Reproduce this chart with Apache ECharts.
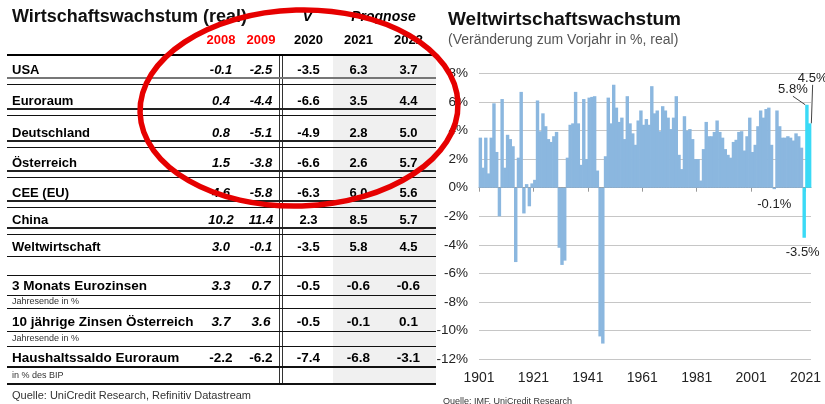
<!DOCTYPE html>
<html><head><meta charset="utf-8">
<script src="https://cdn.jsdelivr.net/npm/echarts@6/dist/echarts.min.js"></script>
<style>html,body{margin:0;padding:0;background:#fff}#c{width:825px;height:404px}</style>
</head><body><div id="c"></div>
<script>
// ---------------- DATA ----------------
const firstYear = 1901;
const growth = [
  3.5, 1.4, 3.5, 1.0, 3.5, 5.9, 2.5, -2.0, 6.2, 1.4,
  3.7, 3.4, 2.9, -5.2, 2.1, 6.7, -1.8, 0.25, -1.3, 0.3,
  0.55, 6.1, 3.95, 5.2, 4.3, 3.4, 3.2, 3.6, 3.9, -4.2,
  -5.4, -5.1, 2.1, 4.4, 4.5, 6.7, 4.5, 1.6, 6.2, 2.0,
  6.3, 6.35, 6.4, 1.2, -10.4, -10.9, 2.2, 6.3, 4.5, 7.2,
  5.6, 4.6, 4.9, 3.4, 6.4, 4.5, 3.8, 3.0, 4.7, 5.4,
  4.4, 4.8, 4.4, 7.1, 5.2, 5.4, 3.95, 5.7, 5.4, 4.9,
  4.1, 4.9, 6.4, 2.3, 1.3, 5.0, 4.0, 4.1, 3.4, 2.0,
  2.0, 0.5, 2.7, 4.6, 3.6, 3.6, 3.9, 4.7, 3.9, 3.5,
  2.7, 2.3, 2.1, 3.2, 3.35, 3.9, 3.95, 2.6, 3.6, 4.9,
  2.5, 3.0, 4.3, 5.4, 4.9, 5.5, 5.6, 3.0, -0.1, 5.4,
  4.3, 3.5, 3.5, 3.6, 3.5, 3.3, 3.8, 3.6, 2.8, -3.5,
  5.8, 4.5
];
const years = growth.map((_, i) => firstYear + i);
const highlightFrom = 2020;
const xTickYears = [1901, 1921, 1941, 1961, 1981, 2001, 2021];
const yTicks = [-12, -10, -8, -6, -4, -2, 0, 2, 4, 6, 8];

// table
const headerYears = ['2008', '2009', '2020', '2021', '2022'];
const rowLabels = ['USA', 'Euroraum', 'Deutschland', 'Österreich', 'CEE (EU)', 'China', 'Weltwirtschaft'];
const v2008 = [-0.1, 0.4, 0.8, 1.5, 4.6, 10.2, 3.0];
const v2009 = [-2.5, -4.4, -5.1, -3.8, -5.8, 11.4, -0.1];
const v2020 = [-3.5, -6.6, -4.9, -6.6, -6.3, 2.3, -3.5];
const v2021 = [6.3, 3.5, 2.8, 2.6, 6.0, 8.5, 5.8];
const v2022 = [3.7, 4.4, 5.0, 5.7, 5.6, 5.7, 4.5];
const extraLabels = ['3 Monats Eurozinsen', '10 jährige Zinsen Österreich', 'Haushaltssaldo Euroraum'];
const extraNotes = ['Jahresende in %', 'Jahresende in %', 'in % des BIP'];
const e2008 = [3.3, 3.7, -2.2];
const e2009 = [0.7, 3.6, -6.2];
const e2020 = [-0.5, -0.5, -7.4];
const e2021 = [-0.6, -0.1, -6.8];
const e2022 = [-0.6, 0.1, -3.1];

// ---------------- LAYOUT / STYLE ----------------
const FONT = '"Liberation Sans", Arial, Helvetica, sans-serif';
const grid = { left: 479, top: 73.3, width: 332, height: 286 };
const BLUE = '#8BB7DF', CYAN = '#3ADAF6';
const annot = {
  2009: { text: '-0.1%', edge: 'bottom', dx: 0, dy: 15, line: false },
  2020: { text: '-3.5%', edge: 'bottom', dx: -1.5, dy: 15, line: false },
  2021: { text: '5.8%', edge: 'top', dx: -14, dy: -15, line: true },
  2022: { text: '4.5%', edge: 'top', dx: 3, dy: -45, line: true }
};
const T = {
  colX: [221, 261, 308.5, 358.5, 408.5],
  rowY: [70, 101, 133, 163, 193, 220, 247],
  extraY: [286, 322, 358.7], noteY: [301.5, 339, 376],
  left: 7, right: 436, labelX: 12, top: 54.5, bottom: 384,
  vline: [279.5, 282.5], shadeX: 333
};

function text(x, y, str, o) {
  o = o || {};
  return {
    type: 'text', z: o.z || 10, silent: true,
    style: {
      text: str, x: x, y: y, fill: o.color || '#000',
      fontFamily: FONT, fontSize: o.size || 13, fontWeight: o.weight || 'normal',
      fontStyle: o.italic ? 'italic' : 'normal',
      align: o.align || 'left', verticalAlign: 'middle',
      textAlign: o.align || 'left', textVerticalAlign: 'middle'
    }
  };
}
function hline(y, w, color) {
  const yy = w % 2 === 1 ? Math.round(y) + 0.5 : Math.round(y);
  return { type: 'line', z: 6, silent: true, shape: { x1: T.left, y1: yy, x2: T.right, y2: yy }, style: { stroke: color || '#111', lineWidth: w } };
}

const g = [];
// shading of forecast columns
g.push({ type: 'rect', z: 1, silent: true, shape: { x: T.shadeX, y: T.top, width: T.right - T.shadeX, height: T.bottom - T.top }, style: { fill: '#F0F0F0' } });
// vertical double line
T.vline.forEach(x => g.push({ type: 'line', z: 6, silent: true, shape: { x1: x, y1: T.top, x2: x, y2: T.bottom }, style: { stroke: '#333', lineWidth: 1 } }));
// horizontal lines
g.push(hline(T.top, 2, '#000'));
T.rowY.forEach((y, i) => {
  if (i < T.rowY.length - 1) { g.push(hline(y + 8, 2, i === 0 ? '#777' : '#222')); g.push(hline(y + 14, 1, '#111')); }
  else g.push(hline(y + 9, 1, '#111'));
});
g.push(hline(T.extraY[0] - 11, 1, '#111'));
T.extraY.forEach((y, k) => {
  const last = k === T.extraY.length - 1;
  g.push(hline(y + (last ? 8 : 9), last ? 2 : 1, '#111'));
  g.push(hline(last ? T.bottom : T.noteY[k] + 6.5, last ? 2 : 1, '#111'));
});
// titles
g.push(text(T.labelX, 17, 'Wirtschaftswachstum (real)', { size: 18, weight: 'bold', color: '#111' }));
g.push(text(307.5, 17, 'V', { size: 15, weight: 'bold', italic: true, align: 'center' }));
g.push(text(383.5, 17, 'Prognose', { size: 14, weight: 'bold', italic: true, align: 'center' }));
headerYears.forEach((h, c) => g.push(text(T.colX[c], 40.5, h, { size: 13, weight: 'bold', align: 'center', color: c < 2 ? '#FF0000' : '#000' })));
// main rows
const mainCols = [v2008, v2009, v2020, v2021, v2022];
rowLabels.forEach((lab, i) => {
  g.push(text(T.labelX, T.rowY[i], lab, { size: 13, weight: 'bold' }));
  mainCols.forEach((col, c) => g.push(text(T.colX[c], T.rowY[i], col[i].toFixed(1), { size: 13, weight: 'bold', italic: c < 2, align: 'center' })));
});
// extra rows
const extraCols = [e2008, e2009, e2020, e2021, e2022];
extraLabels.forEach((lab, k) => {
  g.push(text(T.labelX, T.extraY[k], lab, { size: 13.5, weight: 'bold' }));
  g.push(text(T.labelX, T.noteY[k], extraNotes[k], { size: 9, color: '#333' }));
  extraCols.forEach((col, c) => g.push(text(T.colX[c], T.extraY[k], col[k].toFixed(1), { size: 13.5, weight: 'bold', italic: c < 2 && k < 2, align: 'center' })));
});
g.push(text(T.labelX, 396, 'Quelle: UniCredit Research, Refinitiv Datastream', { size: 11, color: '#333' }));
// chart titles
g.push(text(448, 19.5, 'Weltwirtschaftswachstum', { size: 19, weight: 'bold', color: '#111' }));
g.push(text(448, 40, '(Veränderung zum Vorjahr in %, real)', { size: 14, color: '#555' }));
g.push(text(443, 402, 'Quelle: IMF, UniCredit Research', { size: 9, color: '#333' }));
// red ellipse annotation
g.push({ type: 'ellipse', z: 100, silent: true, x: 299, y: 108, rotation: 0.03, shape: { cx: 0, cy: 0, rx: 159, ry: 98 }, style: { fill: 'none', stroke: '#E60000', lineWidth: 5.5 } });

// ---------------- SERIES DATA ----------------
const span = years.length;
const barData = years.map((yr, i) => {
  const item = { value: [yr - firstYear + 0.5, growth[i]] };
  const a = annot[yr];
  if (a) {
    item.label = { show: true, formatter: a.text };
    item.labelLine = { show: a.line };
  }
  return item;
});
const barW = grid.width / span + 0.7;
const tickVals = xTickYears.map(y => y - firstYear);

const chart = echarts.init(document.getElementById('c'), null, { renderer: 'canvas' });
chart.setOption({
  animation: false,
  backgroundColor: '#fff',
  graphic: { elements: g },
  grid: Object.assign({ containLabel: false }, grid),
  xAxis: [
    {
      type: 'value', min: 0, max: span, interval: 20, position: 'bottom',
      axisLine: { show: false, onZero: false }, axisTick: { show: false }, splitLine: { show: false },
      axisLabel: { customValues: tickVals, formatter: v => String(firstYear + v), fontFamily: FONT, fontSize: 14, color: '#222', margin: 12 }
    },
    {
      type: 'value', min: 0, max: span, interval: 20, position: 'bottom',
      axisLine: { show: true, onZero: true, lineStyle: { color: '#999', width: 1 } },
      axisTick: { show: true, customValues: tickVals, length: 4, lineStyle: { color: '#999' } },
      axisLabel: { show: false }, splitLine: { show: false }
    }
  ],
  yAxis: {
    type: 'value', min: yTicks[0], max: yTicks[yTicks.length - 1], interval: 2,
    axisLine: { show: false }, axisTick: { show: false },
    splitLine: { lineStyle: { color: '#C6C6C6', width: 1 } },
    axisLabel: { formatter: '{value}%', fontFamily: FONT, fontSize: 13.5, color: '#222', margin: 11 }
  },
  series: [{
    type: 'bar', xAxisIndex: 0, data: barData, barWidth: barW,
    itemStyle: { color: p => (years[p.dataIndex] >= highlightFrom ? CYAN : BLUE) },
    label: { show: false, fontFamily: FONT, fontSize: 13, color: '#222' },
    labelLine: { show: true, lineStyle: { color: '#444', width: 1 } },
    labelLayout: p => {
      const a = annot[years[p.dataIndex]];
      if (!a) return {};
      const r = p.rect;
      const cx = r.x + r.width / 2;
      const top = Math.min(r.y, r.y + r.height), bottom = Math.max(r.y, r.y + r.height);
      return { x: cx + a.dx, y: (a.edge === 'top' ? top : bottom) + a.dy, align: 'center', verticalAlign: 'middle' };
    },
    emphasis: { disabled: true }, silent: true
  }]
});
</script></body></html>
